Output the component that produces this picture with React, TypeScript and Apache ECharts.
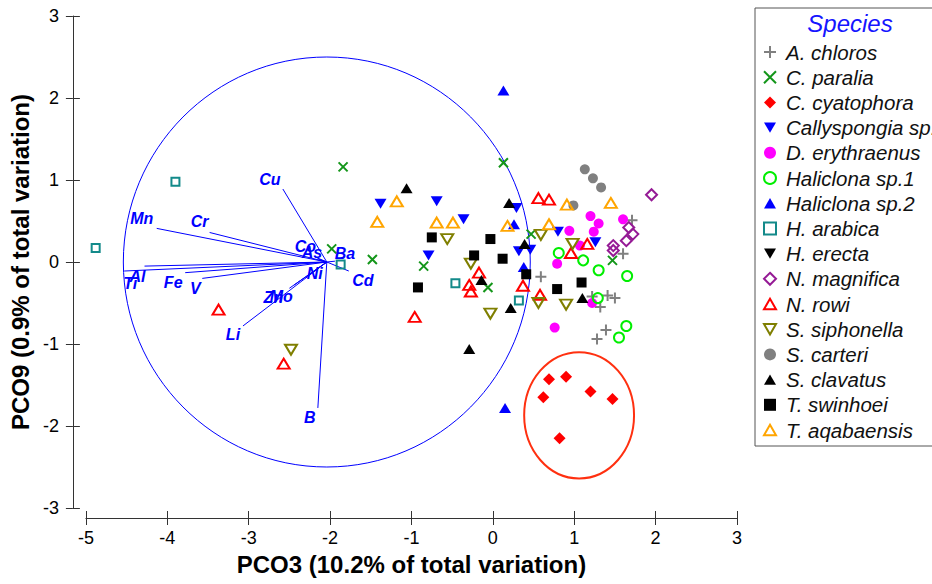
import React, { useEffect, useRef } from 'react';
import * as echarts from 'echarts';

// ---- Data ----
const speciesNames = [
  'A. chloros', 'C. paralia', 'C. cyatophora', 'Callyspongia sp.', 'D. erythraenus',
  'Haliclona sp.1', 'Haliclona sp.2', 'H. arabica', 'H. erecta', 'N. magnifica',
  'N. rowi', 'S. siphonella', 'S. carteri', 'S. clavatus', 'T. swinhoei', 'T. aqabaensis',
];

const aChloros = [[0.59, -0.18], [1.71, 0.51], [1.60, 0.10], [1.22, -0.42], [1.41, -0.41], [1.50, -0.44], [1.32, -0.55], [1.39, -0.83], [1.28, -0.94]];
const cParalia = [[-1.84, 1.16], [-1.98, 0.16], [-1.48, 0.03], [-0.85, -0.05], [-0.06, -0.31], [0.13, 1.21], [0.47, 0.34], [1.47, 0.02]];
const cCyatophora = [[0.69, -1.43], [0.90, -1.40], [0.62, -1.65], [1.20, -1.58], [1.47, -1.67], [0.82, -2.15]];
const callyspongia = [[-1.38, 0.71], [-0.69, 0.74], [-0.36, 0.52], [-0.79, 0.08], [0.29, 0.66], [0.80, 0.37], [1.26, 0.24], [0.32, 0.13], [0.46, 0.15]];
const dErythraenus = [[1.20, 0.56], [1.30, 0.47], [1.24, 0.37], [0.94, 0.38], [1.07, 0.20], [0.79, -0.02], [1.60, 0.52], [1.22, -0.50], [0.76, -0.80]];
const haliclona1 = [[0.81, 0.11], [1.11, 0.02], [1.30, -0.10], [1.65, -0.17], [1.29, -0.44], [1.64, -0.78], [1.55, -0.92]];
const haliclona2 = [[0.13, 2.09], [0.26, 0.46], [0.38, -0.06], [0.15, -1.78]];
const hArabica = [[-4.88, 0.17], [-3.90, 0.98], [-1.87, -0.03], [-0.46, -0.26], [0.32, -0.47]];
const hErecta: number[][] = [];
const nMagnifica = [[1.95, 0.82], [1.67, 0.42], [1.72, 0.34], [1.64, 0.26], [1.48, 0.20], [1.48, 0.14]];
const nRowi = [[-3.37, -0.58], [-2.57, -1.24], [-0.96, -0.67], [-0.17, -0.13], [-0.29, -0.28], [-0.27, -0.36], [0.56, 0.78], [0.69, 0.76], [1.16, 0.22], [0.96, 0.11], [0.37, -0.29], [0.58, -0.40]];
const sSiphonella = [[-2.48, -1.07], [-0.56, 0.28], [-0.27, -0.02], [-0.03, -0.63], [0.59, 0.33], [0.98, 0.22], [0.56, -0.50], [0.90, -0.52]];
const sCarteri = [[1.13, 1.13], [1.23, 1.02], [1.33, 0.91], [0.99, 0.69]];
const sClavatus = [[-1.06, 0.90], [-0.14, -0.22], [-0.29, -1.06], [0.20, 0.72], [0.39, 0.22], [1.10, -0.44], [0.22, -0.56]];
const tSwinhoei = [[-0.75, 0.30], [-0.03, 0.28], [-0.23, 0.08], [0.12, 0.04], [-0.92, -0.31], [0.41, -0.15], [0.79, -0.33], [1.09, -0.25]];
const tAqabaensis = [[-1.18, 0.74], [-1.42, 0.49], [-0.69, 0.48], [-0.49, 0.48], [0.91, 0.70], [1.45, 0.72], [0.18, 0.44], [0.69, 0.46]];

const speciesData = [aChloros, cParalia, cCyatophora, callyspongia, dErythraenus, haliclona1, haliclona2, hArabica, hErecta, nMagnifica, nRowi, sSiphonella, sCarteri, sClavatus, tSwinhoei, tAqabaensis];

// Vector overlay, origin and endpoints
const vectorOrigin = [-2.04, 0.0];
const vectorNames = ['Cu', 'Mn', 'Cr', 'Al', 'Ti', 'Fe', 'V', 'Li', 'Mo', 'Zn', 'Ni', 'Co', 'As', 'Ba', 'Cd', 'B'];
const vectorX = [-2.58, -4.13, -3.48, -4.28, -4.53, -3.78, -3.57, -3.07, -2.44, -2.50, -2.25, -2.18, -2.15, -1.94, -1.77, -2.15];
const vectorY = [0.89, 0.41, 0.36, -0.05, -0.11, -0.13, -0.20, -0.78, -0.28, -0.32, -0.15, 0.06, 0.04, 0.01, -0.11, -1.78];
const circleRadius = 2.5;

// Highlight ellipse around C. cyatophora
const groupEllipse = [1.06, -1.87, 0.675, 0.77];

const xTicks = { min: -5, max: 3, interval: 1 };
const yTicks = { min: -3, max: 3, interval: 1 };

// ---- Styles / layout ----
const labelOffsets: Record<string, [number, number]> = {
  Cu: [-13, -10], Mn: [-15, -10], Cr: [-10, -11], Al: [-7, 10], Ti: [6, 12], Fe: [-12, 10],
  V: [-7, 10], Li: [-10, 9], Mo: [-13, 12], Zn: [-16, 9], Ni: [5, -1], Co: [-10, -11],
  As: [-6, -6], Ba: [10, -8], Cd: [14, 9], B: [-8, 10],
};

const PLUS = 'path://M0,5L10,5M5,0L5,10';
const CROSS = 'path://M0,0L10,10M10,0L0,10';
const UP = 'path://M5,0L10,8.66L0,8.66Z';
const DOWN = 'path://M0,0L10,0L5,8.66Z';
const CLEAR = 'rgba(0,0,0,0)';

const speciesStyles = [
  { symbol: PLUS, size: [11, 11], fill: CLEAR, stroke: '#808080', bw: 2 },
  { symbol: CROSS, size: [9, 9], fill: CLEAR, stroke: '#14961a', bw: 2 },
  { symbol: 'diamond', size: [12, 12], fill: '#ff0000', stroke: '#ff0000', bw: 0 },
  { symbol: DOWN, size: [12, 10], fill: '#0000ff', stroke: '#0000ff', bw: 0 },
  { symbol: 'circle', size: [10, 10], fill: '#ff00ff', stroke: '#ff00ff', bw: 0 },
  { symbol: 'circle', size: [10, 10], fill: CLEAR, stroke: '#00ee00', bw: 2 },
  { symbol: UP, size: [12, 10], fill: '#0000ff', stroke: '#0000ff', bw: 0 },
  { symbol: 'rect', size: [8, 8], fill: CLEAR, stroke: '#138a8a', bw: 2 },
  { symbol: DOWN, size: [12, 10], fill: '#000000', stroke: '#000000', bw: 0 },
  { symbol: 'diamond', size: [11, 11], fill: CLEAR, stroke: '#951a95', bw: 2 },
  { symbol: UP, size: [12, 10], fill: CLEAR, stroke: '#ff0000', bw: 2 },
  { symbol: DOWN, size: [12, 10], fill: CLEAR, stroke: '#7f7f00', bw: 2 },
  { symbol: 'circle', size: [10, 10], fill: '#808080', stroke: '#808080', bw: 0 },
  { symbol: UP, size: [12, 10], fill: '#000000', stroke: '#000000', bw: 0 },
  { symbol: 'rect', size: [10, 10], fill: '#000000', stroke: '#000000', bw: 0 },
  { symbol: UP, size: [12, 10], fill: CLEAR, stroke: '#ffa500', bw: 2 },
];

const FONT = '"Liberation Sans", Arial, sans-serif';
const AXIS_COLOR = '#333';

export default function App() {
  const ref = useRef<HTMLDivElement>(null);

  useEffect(() => {
    document.body.style.margin = '0';
    const chart = echarts.init(ref.current as HTMLDivElement, null, { renderer: 'svg' });

    const axisCommonX = { type: 'value', min: xTicks.min, max: xTicks.max, interval: xTicks.interval, position: 'bottom', offset: 10, splitLine: { show: false } };
    const axisCommonY = { type: 'value', min: yTicks.min, max: yTicks.max, interval: yTicks.interval, position: 'left', offset: 13, splitLine: { show: false } };

    const scatterSeries = speciesNames.map((name, i) => {
      const st = speciesStyles[i];
      return {
        type: 'scatter',
        name,
        data: speciesData[i],
        symbol: st.symbol,
        symbolSize: st.size,
        itemStyle: { color: st.fill, borderColor: st.stroke, borderWidth: st.bw, opacity: 1 },
        z: 5,
      };
    });

    const option: any = {
      animation: false,
      grid: { left: 83, right: 195, top: 16, bottom: 76 },
      xAxis: [
        {
          ...axisCommonX,
          axisLine: { onZero: false, lineStyle: { color: AXIS_COLOR, width: 1 } },
          axisTick: { length: 7, lineStyle: { color: AXIS_COLOR } },
          axisLabel: { fontSize: 18, color: '#000', margin: 11, fontFamily: FONT },
          name: 'PCO3 (10.2% of total variation)',
          nameLocation: 'middle',
          nameGap: 34,
          nameTextStyle: { fontSize: 24, fontWeight: 'bold', color: '#000', fontFamily: FONT },
        },
        {
          ...axisCommonX,
          axisLine: { show: false, onZero: false },
          axisTick: { inside: true, length: 7, lineStyle: { color: AXIS_COLOR } },
          axisLabel: { show: false },
        },
      ],
      yAxis: [
        {
          ...axisCommonY,
          axisLine: { onZero: false, lineStyle: { color: AXIS_COLOR, width: 1 } },
          axisTick: { length: 7, lineStyle: { color: AXIS_COLOR } },
          axisLabel: { fontSize: 18, color: '#000', margin: 14, fontFamily: FONT },
          name: 'PCO9 (0.9% of total variation)',
          nameLocation: 'middle',
          nameGap: 37,
          nameTextStyle: { fontSize: 24, fontWeight: 'bold', color: '#000', fontFamily: FONT },
        },
        {
          ...axisCommonY,
          axisLine: { show: false, onZero: false },
          axisTick: { inside: true, length: 7, lineStyle: { color: AXIS_COLOR } },
          axisLabel: { show: false },
        },
      ],
      legend: {
        orient: 'vertical',
        left: 755,
        top: 8,
        padding: [34, 12, 6, 8],
        itemWidth: 12,
        itemHeight: 12,
        itemGap: 5.2,
        borderColor: '#555',
        borderWidth: 1,
        textStyle: { fontSize: 20.5, fontStyle: 'italic', color: '#111', fontFamily: FONT, lineHeight: 20, padding: [0, 0, 0, 5] },
        data: speciesNames,
      },
      graphic: [
        {
          type: 'text',
          x: 850,
          y: 23,
          style: { text: 'Species', fill: '#1515ff', font: `italic 24px ${FONT}`, align: 'center', verticalAlign: 'middle' },
        },
      ],
      series: [
        {
          type: 'custom',
          name: 'circle',
          silent: true,
          coordinateSystem: 'cartesian2d',
          data: [[vectorOrigin[0], vectorOrigin[1], circleRadius, circleRadius]],
          encode: { x: 0, y: 1 },
          renderItem: (params: any, api: any) => {
            const c = api.coord([api.value(0), api.value(1)]);
            const s = api.size([api.value(2), api.value(3)]);
            return { type: 'ellipse', shape: { cx: c[0], cy: c[1], rx: s[0], ry: s[1] }, style: { fill: 'none', stroke: '#0000ff', lineWidth: 1 } };
          },
          z: 1,
        },
        {
          type: 'custom',
          name: 'vectors',
          silent: true,
          coordinateSystem: 'cartesian2d',
          data: vectorX.map((x, i) => [x, vectorY[i]]),
          encode: { x: 0, y: 1 },
          renderItem: (params: any, api: any) => {
            const i = params.dataIndex;
            const o = api.coord(vectorOrigin);
            const e = api.coord([api.value(0), api.value(1)]);
            const nm = vectorNames[i];
            const off = labelOffsets[nm] || [0, 0];
            return {
              type: 'group',
              children: [
                { type: 'line', shape: { x1: o[0], y1: o[1], x2: e[0], y2: e[1] }, style: { stroke: '#0000ff', lineWidth: 1 } },
                {
                  type: 'text',
                  x: e[0] + off[0],
                  y: e[1] + off[1],
                  style: { text: nm, fill: '#0000ff', font: `italic bold 16px ${FONT}`, align: 'center', verticalAlign: 'middle' },
                },
              ],
            };
          },
          z: 2,
        },
        {
          type: 'custom',
          name: 'group',
          silent: true,
          coordinateSystem: 'cartesian2d',
          data: [groupEllipse],
          encode: { x: 0, y: 1 },
          renderItem: (params: any, api: any) => {
            const c = api.coord([api.value(0), api.value(1)]);
            const s = api.size([api.value(2), api.value(3)]);
            return { type: 'ellipse', shape: { cx: c[0], cy: c[1], rx: s[0], ry: s[1] }, style: { fill: 'none', stroke: '#ff3010', lineWidth: 2 } };
          },
          z: 1,
        },
        ...scatterSeries,
      ],
    };

    chart.setOption(option);
    return () => chart.dispose();
  }, []);

  return <div ref={ref} style={{ width: 932, height: 584 }} />;
}
